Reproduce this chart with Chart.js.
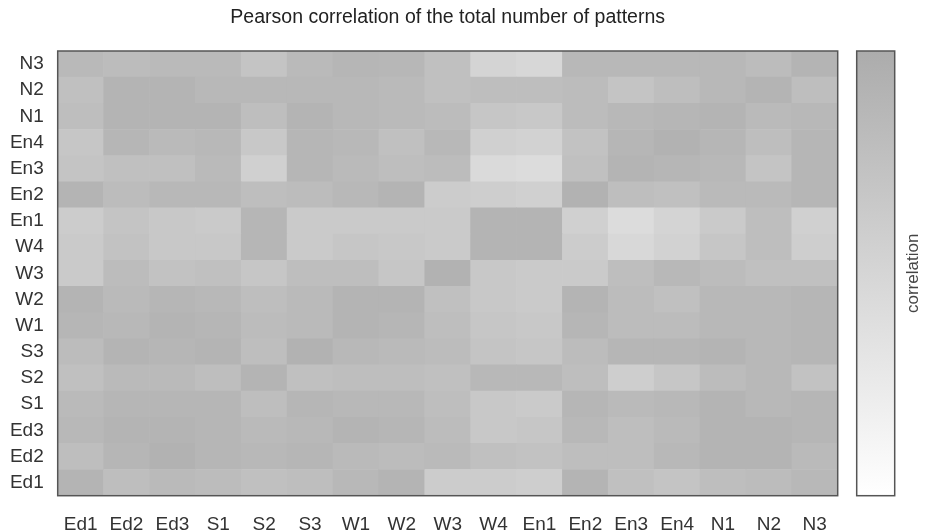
<!DOCTYPE html>
<html>
<head>
<meta charset="utf-8">
<script src="https://cdn.jsdelivr.net/npm/chart.js@4"></script>
<style>
  html, body { margin: 0; padding: 0; background: #ffffff; }
  #wrap { width: 926px; height: 532px; }
</style>
</head>
<body>
<div id="wrap"><canvas id="heat" width="926" height="532"></canvas></div>
<script>
// Pattern groups, used for both axes (rows bottom to top, columns left to right)
const groupLabels = ['Ed1','Ed2','Ed3','S1','S2','S3','W1','W2','W3','W4','En1','En2','En3','En4','N1','N2','N3'];

// Pearson correlation per row; entries follow groupLabels column order
const corrEd1 = [0.90,0.78,0.83,0.81,0.76,0.78,0.86,0.90,0.61,0.61,0.59,0.90,0.76,0.71,0.78,0.81,0.86];
const corrEd2 = [0.78,0.88,0.93,0.88,0.86,0.88,0.83,0.81,0.83,0.76,0.73,0.78,0.78,0.86,0.90,0.90,0.83];
const corrEd3 = [0.86,0.90,0.90,0.88,0.83,0.86,0.90,0.88,0.81,0.66,0.69,0.86,0.78,0.83,0.90,0.90,0.88];
const corrS1  = [0.83,0.88,0.88,0.88,0.78,0.88,0.86,0.86,0.78,0.66,0.64,0.88,0.83,0.86,0.90,0.86,0.88];
const corrS2  = [0.76,0.83,0.83,0.78,0.90,0.76,0.78,0.78,0.76,0.86,0.86,0.78,0.59,0.69,0.81,0.86,0.73];
const corrS3  = [0.81,0.90,0.88,0.90,0.78,0.93,0.86,0.83,0.81,0.71,0.69,0.81,0.88,0.88,0.90,0.86,0.88];
const corrW1  = [0.88,0.86,0.90,0.88,0.81,0.83,0.90,0.88,0.78,0.69,0.66,0.88,0.81,0.81,0.86,0.86,0.88];
const corrW2  = [0.90,0.83,0.88,0.86,0.78,0.83,0.90,0.90,0.76,0.66,0.64,0.90,0.81,0.76,0.86,0.86,0.88];
const corrW3  = [0.64,0.81,0.73,0.76,0.69,0.78,0.78,0.69,0.93,0.66,0.64,0.64,0.78,0.86,0.81,0.76,0.76];
const corrW4  = [0.64,0.73,0.66,0.66,0.88,0.64,0.69,0.66,0.64,0.90,0.90,0.61,0.47,0.54,0.69,0.78,0.59];
const corrEn1 = [0.61,0.71,0.66,0.64,0.88,0.64,0.64,0.64,0.64,0.90,0.90,0.57,0.42,0.52,0.64,0.78,0.57];
const corrEn2 = [0.90,0.81,0.86,0.86,0.78,0.81,0.86,0.90,0.61,0.59,0.57,0.93,0.78,0.76,0.83,0.83,0.88];
const corrEn3 = [0.71,0.76,0.76,0.83,0.57,0.88,0.83,0.78,0.81,0.45,0.42,0.76,0.90,0.88,0.86,0.71,0.88];
const corrEn4 = [0.69,0.88,0.83,0.86,0.66,0.88,0.86,0.76,0.86,0.57,0.54,0.73,0.88,0.93,0.88,0.78,0.88];
const corrN1  = [0.78,0.90,0.90,0.90,0.78,0.90,0.86,0.83,0.81,0.69,0.66,0.81,0.86,0.88,0.90,0.83,0.86];
const corrN2  = [0.76,0.90,0.90,0.86,0.86,0.86,0.86,0.83,0.76,0.78,0.78,0.81,0.71,0.78,0.86,0.90,0.78];
const corrN3  = [0.84,0.81,0.83,0.83,0.71,0.83,0.88,0.87,0.76,0.52,0.48,0.86,0.86,0.86,0.86,0.81,0.90];

const corrRows = [corrEd1, corrEd2, corrEd3, corrS1, corrS2, corrS3, corrW1, corrW2, corrW3,
                  corrW4, corrEn1, corrEn2, corrEn3, corrEn4, corrN1, corrN2, corrN3];

const chartTitle = 'Pearson correlation of the total number of patterns';
const colorbarTitle = 'correlation';

// Colour scale: 0 -> white, 1 -> mid grey
const SCALE_MIN = 0, SCALE_MAX = 1;
const LOW_GREY = 255, HIGH_GREY = 172;
function shade(v) {
  const t = Math.max(0, Math.min(1, (v - SCALE_MIN) / (SCALE_MAX - SCALE_MIN)));
  const g = Math.round(LOW_GREY + (HIGH_GREY - LOW_GREY) * t);
  return `rgb(${g},${g},${g})`;
}

const FONT = "'Liberation Sans', Arial, sans-serif";

// Each row is one stacked dataset of unit-height cells, one cell per column
const datasets = corrRows.map((row, k) => ({
  label: groupLabels[k],
  data: groupLabels.map(() => 1),
  backgroundColor: row.map(shade),
  borderWidth: 0,
  barPercentage: 1,
  categoryPercentage: 1
}));

// Title over the cell panel, frame around the cells, colour bar with caption
const panelDecor = {
  id: 'panelDecor',
  afterDraw(chart) {
    const { ctx, chartArea: a } = chart;
    ctx.save();

    ctx.font = `19.5px ${FONT}`;
    ctx.fillStyle = '#222222';
    ctx.textAlign = 'center';
    ctx.textBaseline = 'middle';
    ctx.fillText(chartTitle, (a.left + a.right) / 2, 18);

    ctx.strokeStyle = '#555555';
    ctx.lineWidth = 1.5;
    ctx.strokeRect(a.left, a.top, a.right - a.left, a.bottom - a.top);

    const x0 = a.right + 19, w = 38;
    const grad = ctx.createLinearGradient(0, a.bottom, 0, a.top);
    grad.addColorStop(0, shade(SCALE_MIN));
    grad.addColorStop(1, shade(SCALE_MAX));
    ctx.fillStyle = grad;
    ctx.fillRect(x0, a.top, w, a.bottom - a.top);
    ctx.strokeRect(x0, a.top, w, a.bottom - a.top);

    ctx.translate(x0 + w + 19, (a.top + a.bottom) / 2);
    ctx.rotate(-Math.PI / 2);
    ctx.font = `17px ${FONT}`;
    ctx.fillStyle = '#444444';
    ctx.fillText(colorbarTitle, 0, 0);
    ctx.restore();
  }
};

new Chart(document.getElementById('heat'), {
  type: 'bar',
  data: { labels: groupLabels, datasets },
  options: {
    responsive: false,
    animation: false,
    layout: { padding: { left: 0, right: 88.3, top: 51, bottom: 0 } },
    plugins: {
      legend: { display: false },
      tooltip: { enabled: false },
      title: { display: false }
    },
    scales: {
      x: {
        type: 'category',
        stacked: true,
        grid: { display: false },
        border: { display: false },
        ticks: { color: '#333333', font: { family: FONT, size: 19 }, padding: 10, maxRotation: 0, autoSkip: false },
        afterFit(scale) { scale.height = 36.3; }
      },
      y: {
        type: 'linear',
        stacked: true,
        min: 0,
        max: groupLabels.length,
        grid: { display: false },
        border: { display: false },
        afterBuildTicks(scale) {
          scale.ticks = groupLabels.map((_, i) => ({ value: i + 0.5 }));
        },
        ticks: {
          color: '#333333',
          font: { family: FONT, size: 19 },
          padding: 6,
          autoSkip: false,
          callback: (v) => groupLabels[Math.floor(v)]
        },
        afterFit(scale) { scale.width = 57.7; }
      }
    }
  },
  plugins: [panelDecor]
});
</script>
</body>
</html>
